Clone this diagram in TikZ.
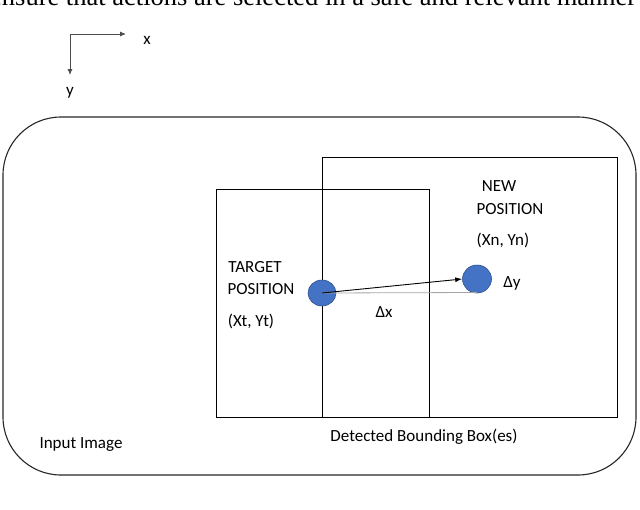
\documentclass[tikz,border=0pt]{standalone}
\usepackage{fontspec}
\setmainfont{Carlito}
\newfontfamily\serifcap{Liberation Serif}
\usetikzlibrary{arrows.meta,shapes.geometric}
\definecolor{dotblue}{HTML}{4472C4}
\definecolor{dotedge}{HTML}{2F528F}
\begin{document}
\begin{tikzpicture}[x=1pt,y=-1pt,
  frame/.style={draw=black!85,line width=1.1pt},
  box/.style={draw=black,line width=1pt},
  dot/.style={ellipse,fill=dotblue,draw=dotedge,line width=0.6pt,inner sep=0pt},
  lbl/.style={font=\fontsize{17}{20}\selectfont,inner sep=0pt,anchor=center},
  axis/.style={draw=black!70,line width=0.9pt,-{Latex[length=6pt,width=5pt]}},
  vec/.style={draw=black,line width=0.9pt,-{Latex[length=7pt,width=5pt]}}]
\useasboundingbox (0,0) rectangle (640,509);
\begin{scope}
\clip (0,0) rectangle (640,509);
\node[font=\serifcap\fontsize{26.5}{30}\selectfont,anchor=base west,inner sep=0pt] (toptext) at (-10,5) {ensure that actions are selected in a safe and relevant manner};
\end{scope}
% axes
\coordinate (o) at (70,34);
\coordinate (xe) at (126,34);
\coordinate (ye) at (70,75);
\draw[axis] (o) -- (xe);
\draw[axis] (o) -- (ye);
\node[lbl] (xl) at (147,40) {x};
\node[lbl] (yl) at (70,93) {y};
% outer frame
\draw[frame,rounded corners=58pt] (3,117) rectangle (636,475);
% boxes
\draw[box] (216,189) rectangle (429,417);
\draw[box] (322,157) rectangle (617,417);
% dots
\node[dot,minimum width=28pt,minimum height=26pt] (t) at (322,293) {};
\node[dot,minimum width=29pt,minimum height=28pt] (n) at (477,279) {};
\draw[black!35,line width=0.8pt] (t.center) -- (n.center |- 0,292.5);
\draw[vec] (t.center) -- (n.west);
% labels
\node[lbl] (tg1) at (255,267) {TARGET};
\node[lbl] (tg2) at (261,289) {POSITION};
\node[lbl] (tg3) at (251,321) {(Xt, Yt)};
\node[lbl] (nw1) at (499,186) {NEW};
\node[lbl] (nw2) at (510,209) {POSITION};
\node[lbl] (nw3) at (503,240) {(Xn, Yn)};
\node[lbl] (dy) at (512,283) {Δy};
\node[lbl] (dx) at (384,312) {Δx};
\node[lbl] (ii) at (81,445) {Input Image};
\node[lbl] (dbb) at (424,437) {Detected Bounding Box(es)};
\end{tikzpicture}
\end{document}
